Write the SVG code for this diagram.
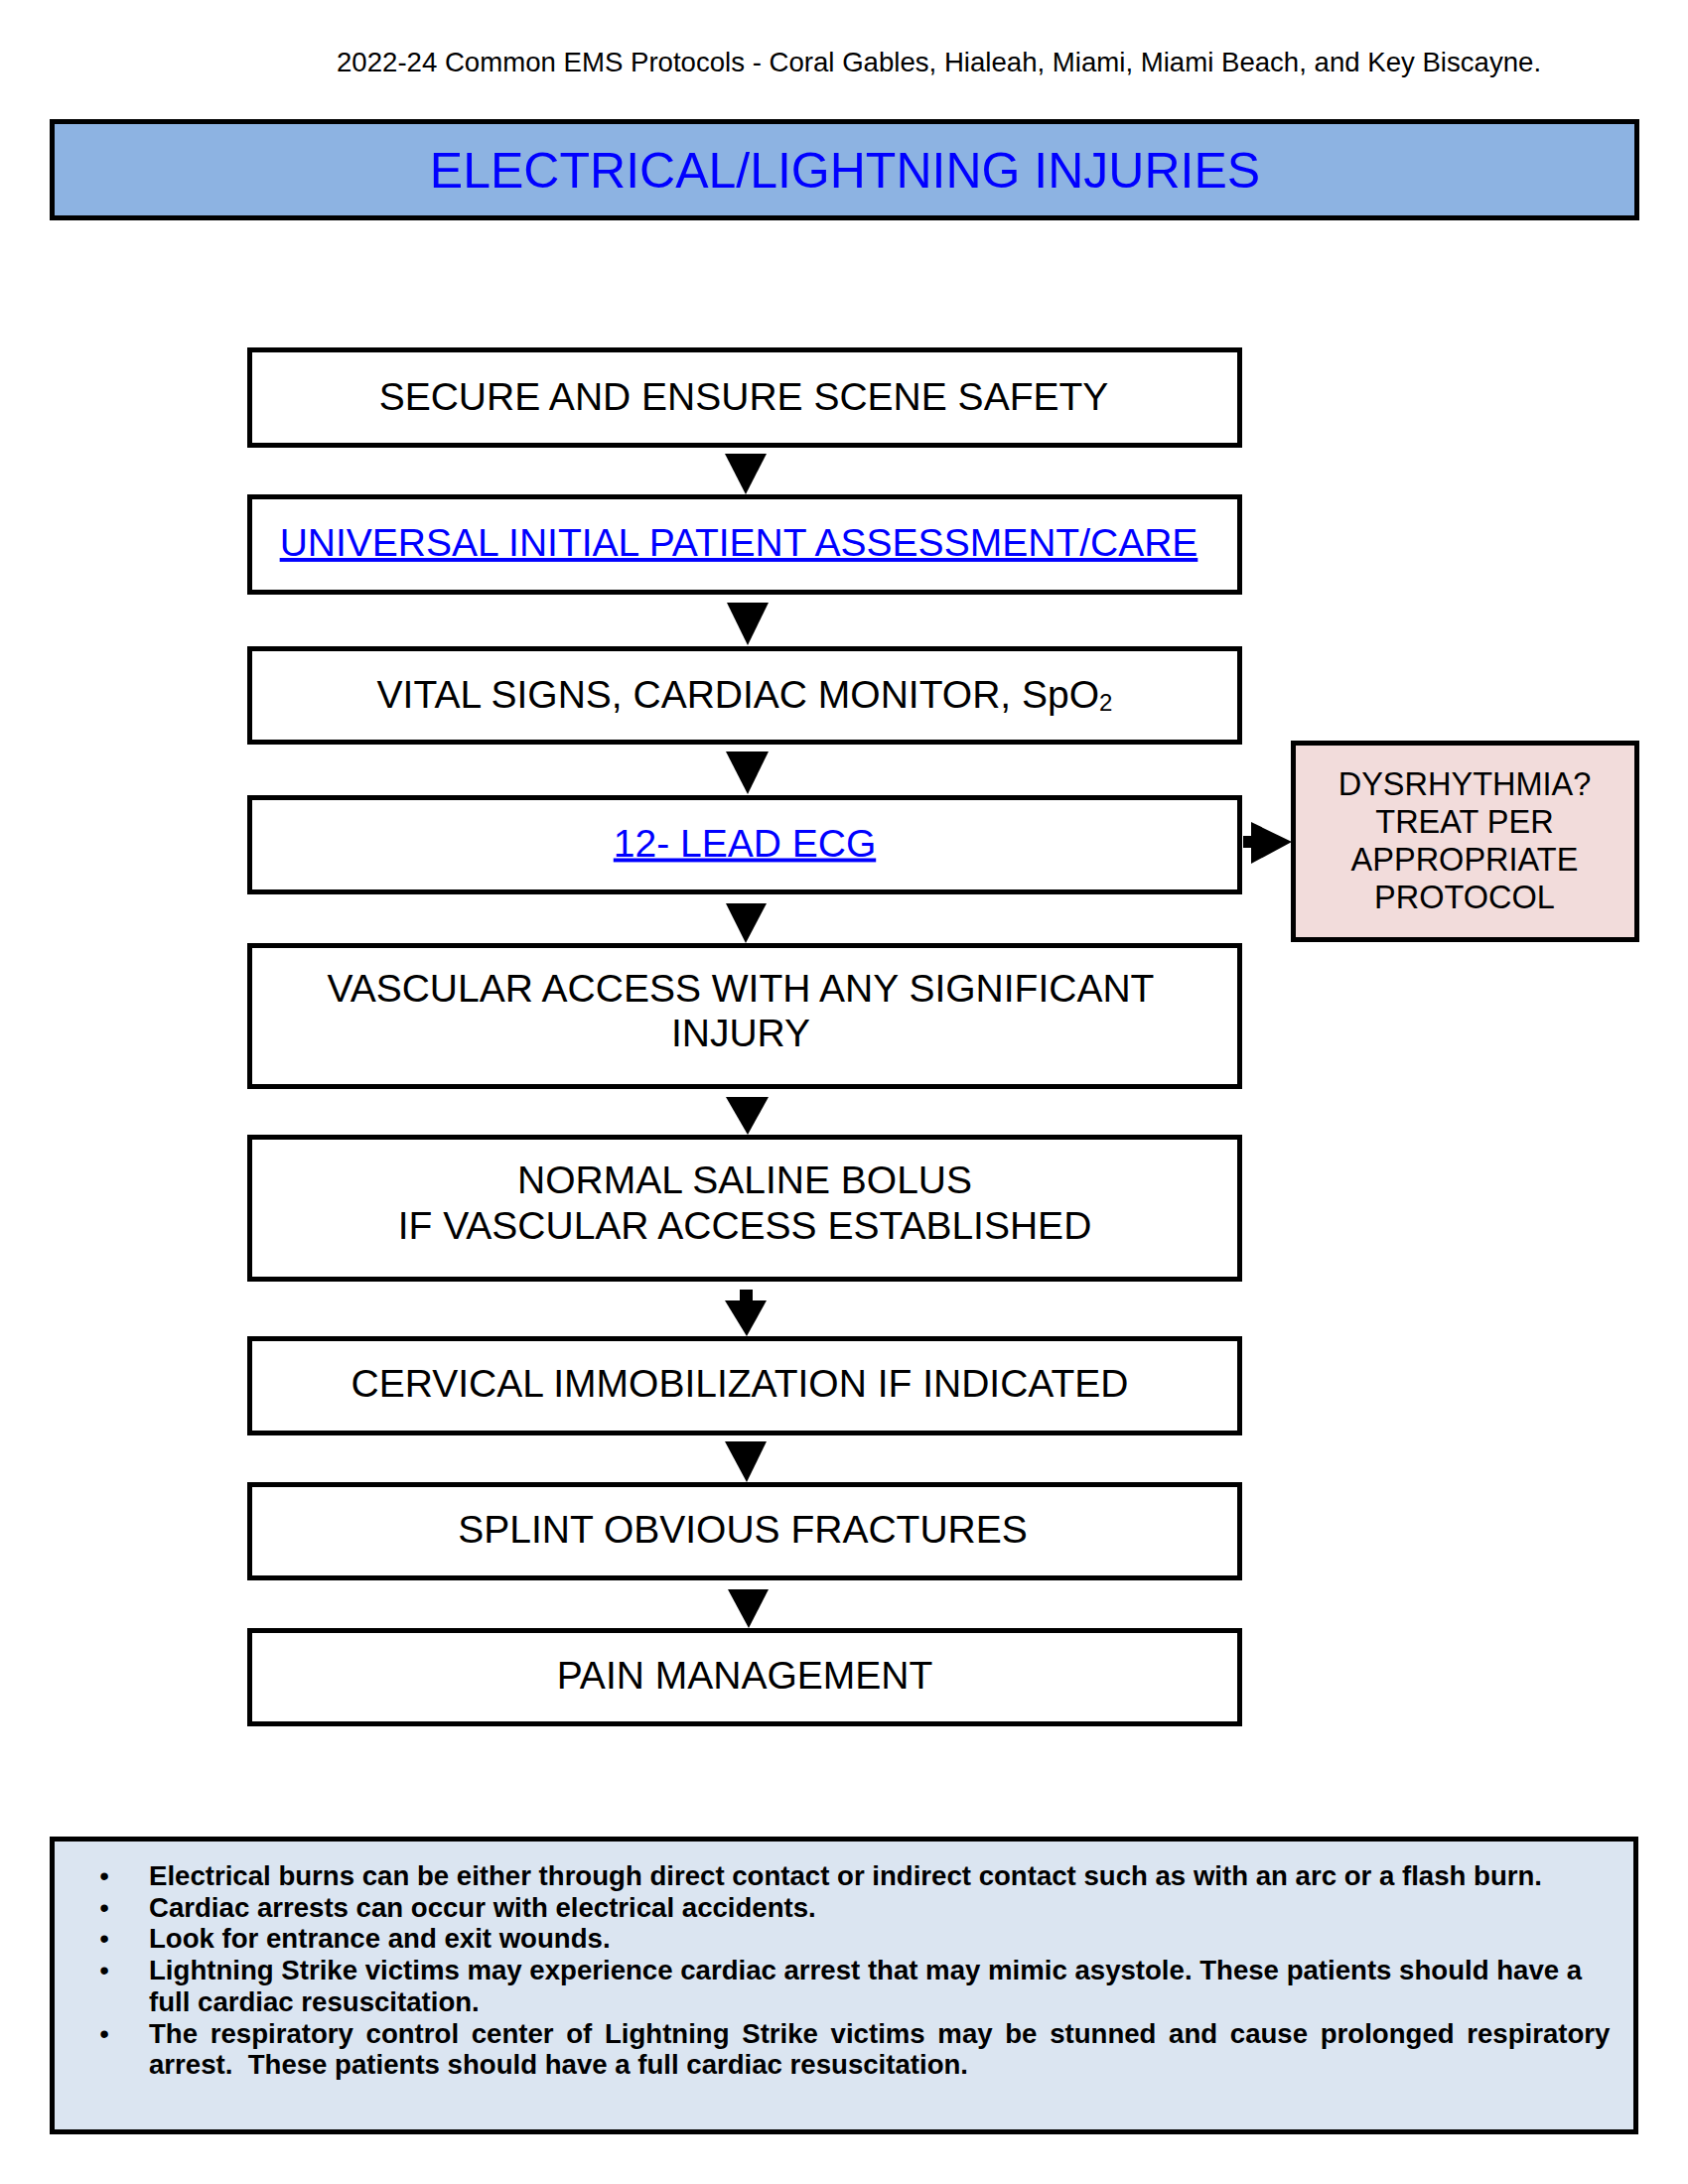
<svg xmlns="http://www.w3.org/2000/svg" width="1700" height="2200" viewBox="0 0 1700 2200">
<defs>
<style>
.page{fill:#ffffff}
.box{fill:#ffffff;stroke:#000000;stroke-width:5}
.title{fill:#8DB3E2;stroke:#000000;stroke-width:5}
.side{fill:#F2DCDB;stroke:#000000;stroke-width:5}
.notes{fill:#DBE5F1;stroke:#000000;stroke-width:5}
.arrow{fill:#000000;stroke:none}
text{font-family:"Liberation Sans",Arial,sans-serif}
.hdr{font-size:27.6px;fill:#000000}
.ttl{font-size:50px;fill:#0000FF;text-anchor:middle}
.lbl{font-size:39px;fill:#000000;text-anchor:middle}
.lnk{font-size:39px;fill:#0000FF;text-anchor:middle;text-decoration:underline}
.sd{font-size:32.5px;fill:#000000;text-anchor:middle}
.nt{font-size:27.6px;font-weight:bold;fill:#000000}
.bul{font-size:27.6px;fill:#000000;text-anchor:middle}
</style>
</defs>
<rect class="page" x="0" y="0" width="1700" height="2200"/>
<g id="header">
<text class="hdr" x="339" y="71.5">2022-24 Common EMS Protocols - Coral Gables, Hialeah, Miami, Miami Beach, and Key Biscayne.</text>
</g>
<g id="title">
<rect class="title" x="52.5" y="122.5" width="1596" height="97"/>
<text class="ttl" x="851" y="189">ELECTRICAL/LIGHTNING INJURIES</text>
</g>
<g id="n1">
<rect class="box" x="251.5" y="352.5" width="997" height="96"/>
<text class="lbl" x="749" y="412.5">SECURE AND ENSURE SCENE SAFETY</text>
</g>
<g id="n2">
<rect class="box" x="251.5" y="500.5" width="997" height="96"/>
<text class="lnk" x="744" y="560">UNIVERSAL INITIAL PATIENT ASSESSMENT/CARE</text>
</g>
<g id="n3">
<rect class="box" x="251.5" y="653.5" width="997" height="94"/>
<text class="lbl" x="750" y="712.5">VITAL SIGNS, CARDIAC MONITOR, SpO<tspan font-size="24" dy="3">2</tspan></text>
</g>
<g id="n4">
<rect class="box" x="251.5" y="803.5" width="997" height="95"/>
<text class="lnk" x="750" y="862.5">12- LEAD ECG</text>
</g>
<g id="n5">
<rect class="box" x="251.5" y="952.5" width="997" height="142"/>
<text class="lbl" x="746" y="1009">VASCULAR ACCESS WITH ANY SIGNIFICANT</text>
<text class="lbl" x="746" y="1054">INJURY</text>
</g>
<g id="n6">
<rect class="box" x="251.5" y="1145.5" width="997" height="143"/>
<text class="lbl" x="750" y="1202">NORMAL SALINE BOLUS</text>
<text class="lbl" x="750" y="1248">IF VASCULAR ACCESS ESTABLISHED</text>
</g>
<g id="n7">
<rect class="box" x="251.5" y="1348.5" width="997" height="95"/>
<text class="lbl" x="745" y="1407">CERVICAL IMMOBILIZATION IF INDICATED</text>
</g>
<g id="n8">
<rect class="box" x="251.5" y="1495.5" width="997" height="94"/>
<text class="lbl" x="748" y="1553.5">SPLINT OBVIOUS FRACTURES</text>
</g>
<g id="n9">
<rect class="box" x="251.5" y="1642.5" width="997" height="94"/>
<text class="lbl" x="750" y="1700.5">PAIN MANAGEMENT</text>
</g>
<g id="side">
<rect class="side" x="1302.5" y="748.5" width="346" height="198"/>
<text class="sd" x="1475" y="800.5">DYSRHYTHMIA?</text>
<text class="sd" x="1475" y="838.5">TREAT PER</text>
<text class="sd" x="1475" y="877">APPROPRIATE</text>
<text class="sd" x="1475" y="915">PROTOCOL</text>
</g>
<g id="connectors">
<polygon class="arrow" points="730,457 772,457 751,498"/>
<polygon class="arrow" points="732,607 774,607 753,650"/>
<polygon class="arrow" points="731,757 774,757 753,800"/>
<polygon class="arrow" points="731,910 772,910 751,950"/>
<polygon class="arrow" points="731,1105 774,1105 753,1143"/>
<rect class="arrow" x="745" y="1299" width="13" height="12"/>
<polygon class="arrow" points="730,1310 772,1310 752,1346"/>
<polygon class="arrow" points="730,1452 772,1452 752,1493"/>
<polygon class="arrow" points="733,1601 774,1601 754,1640"/>
<rect class="arrow" x="1252" y="842" width="10" height="12"/>
<polygon class="arrow" points="1260,828 1260,870 1301,848"/>
</g>
<g id="notes">
<rect class="notes" x="52.5" y="1852.5" width="1595" height="295"/>
<text class="bul" x="105" y="1899">•</text>
<text class="nt" x="150" y="1899">Electrical burns can be either through direct contact or indirect contact such as with an arc or a flash burn.</text>
<text class="bul" x="105" y="1930.7">•</text>
<text class="nt" x="150" y="1930.7">Cardiac arrests can occur with electrical accidents.</text>
<text class="bul" x="105" y="1962.4">•</text>
<text class="nt" x="150" y="1962.4">Look for entrance and exit wounds.</text>
<text class="bul" x="105" y="1994.1">•</text>
<text class="nt" x="150" y="1994.1">Lightning Strike victims may experience cardiac arrest that may mimic asystole. These patients should have a</text>
<text class="nt" x="150" y="2025.8">full cardiac resuscitation.</text>
<text class="bul" x="105" y="2057.5">•</text>
<text class="nt" x="150" y="2057.5" word-spacing="5">The respiratory control center of Lightning Strike victims may be stunned and cause prolonged respiratory</text>
<text class="nt" x="150" y="2089.2" xml:space="preserve">arrest.  These patients should have a full cardiac resuscitation.</text>
</g>
</svg>
